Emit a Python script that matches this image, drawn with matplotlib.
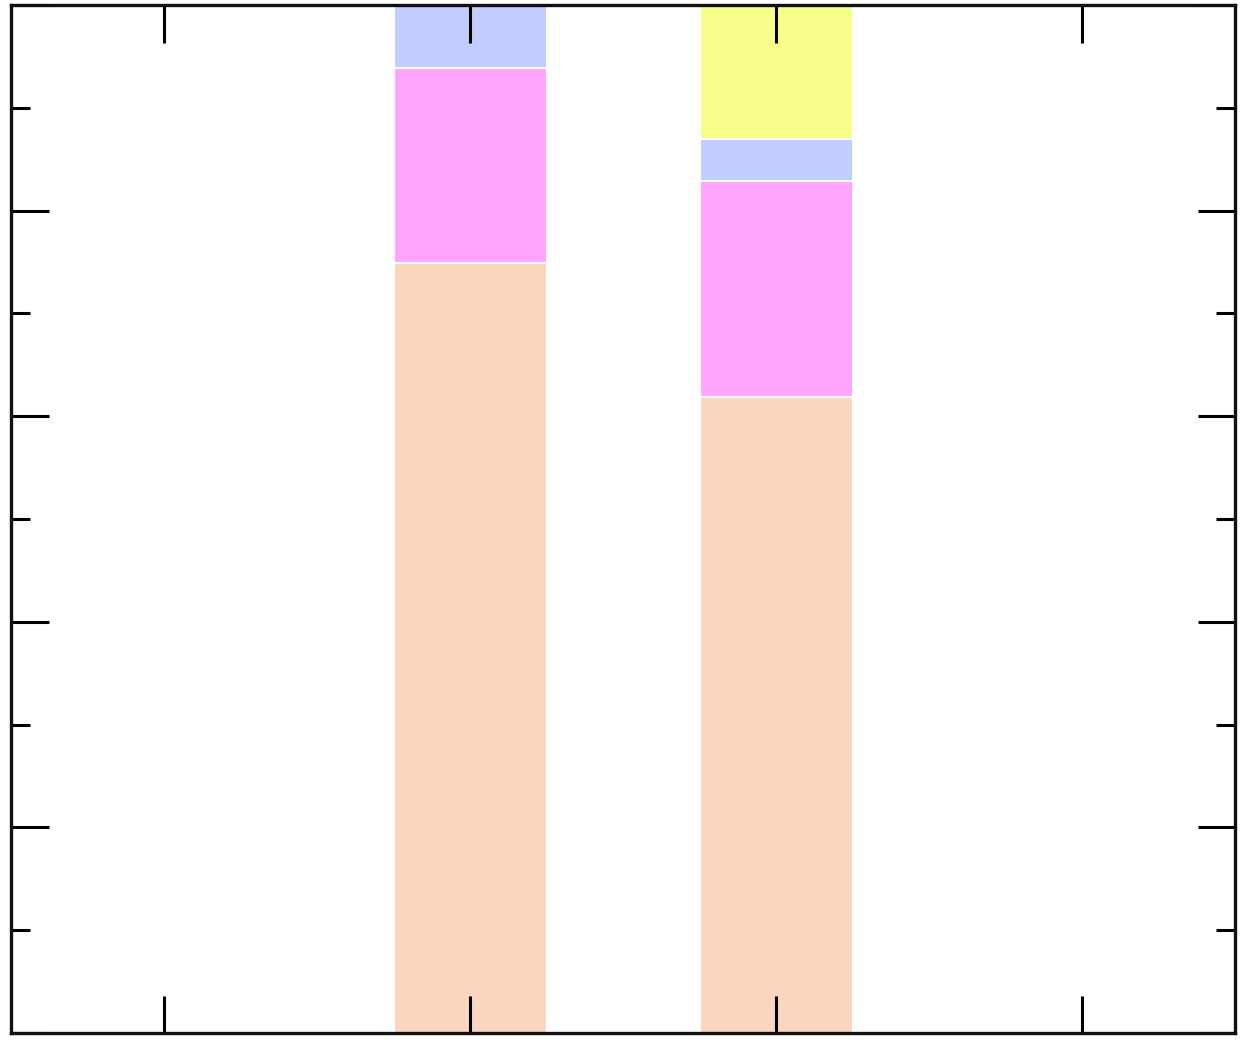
import matplotlib
matplotlib.use("Agg")
import matplotlib.pyplot as plt
import numpy as np
from matplotlib.ticker import MultipleLocator, NullFormatter

categories = [0, 1, 2, 3]
seg_peach = [0.0, 0.749, 0.619, 0.0]
seg_pink = [0.0, 0.190, 0.210, 0.0]
seg_blue = [0.0, 0.070, 0.041, 0.0]
seg_yellow = [0.0, 0.0, 0.150, 0.0]
colors = ["#FAD5C0", "#FFA5FF", "#C1CCFF", "#F7FF8A"]

fig = plt.figure(figsize=(12.5, 10.47), dpi=100)
ax = fig.add_axes([11/1250, 14/1047, 1224/1250, 1028/1047])

bottom = np.zeros(len(categories))
for vals, c in zip([seg_peach, seg_pink, seg_blue, seg_yellow], colors):
    v = np.array(vals)
    ax.bar(categories, v, width=0.5, bottom=bottom, color=c,
           edgecolor="white", linewidth=1.5)
    bottom += v

ax.set_xlim(-0.5, 3.5)
ax.set_ylim(0, 1.0)
ax.set_xticks(categories)
ax.yaxis.set_major_locator(MultipleLocator(0.2))
ax.yaxis.set_minor_locator(MultipleLocator(0.1))
ax.xaxis.set_major_formatter(NullFormatter())
ax.yaxis.set_major_formatter(NullFormatter())
ax.tick_params(which="major", direction="in", length=27, width=2.2,
               top=True, right=True, bottom=True, left=True, color="black")
ax.tick_params(which="minor", direction="in", length=14, width=2.2,
               left=True, right=True, color="black")
for s in ax.spines.values():
    s.set_linewidth(2.4)
    s.set_color("#111111")

fig.savefig("out.png", dpi=100)
